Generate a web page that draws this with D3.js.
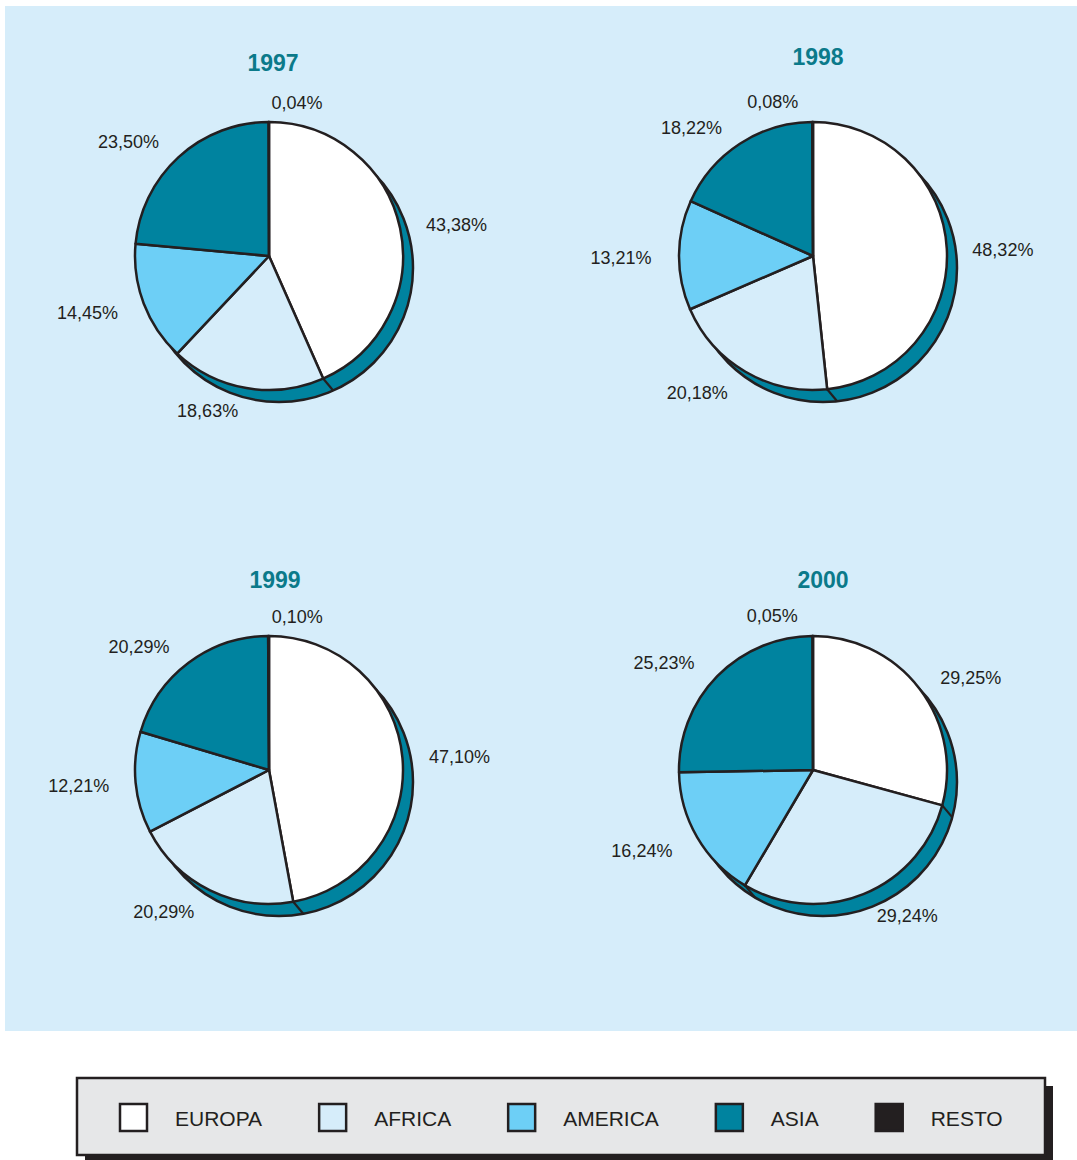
<!DOCTYPE html>
<html>
<head>
<meta charset="utf-8">
<script src="https://cdn.jsdelivr.net/npm/d3@7"></script>
<style>
  html, body { margin: 0; padding: 0; background: #ffffff; }
  svg { display: block; font-family: "Liberation Sans", Arial, Helvetica, sans-serif; }
</style>
</head>
<body>
<svg id="chart" width="1077" height="1160"></svg>
<script>
// ---------- data ----------
const years = ["1997", "1998", "1999", "2000"];
const categories = ["EUROPA", "AFRICA", "AMERICA", "ASIA", "RESTO"];
const values1997 = [43.38, 18.63, 14.45, 23.50, 0.04];
const values1998 = [48.32, 20.18, 13.21, 18.22, 0.08];
const values1999 = [47.10, 20.29, 12.21, 20.29, 0.10];
const values2000 = [29.25, 29.24, 16.24, 25.23, 0.05];
const seriesByYear = [values1997, values1998, values1999, values2000];

// ---------- layout / style (kept apart from the data) ----------
const colors = ["#ffffff", "#d6edfa", "#6dcff6", "#00839f", "#231f20"];
const ink = "#231f20";
const panelBg = "#d6edfa";
const titleColor = "#0b7a8a";
const radius = 134;
const shadowDx = 10, shadowDy = 12;
// label placement: [angle nudge in degrees, distance from centre]
const labelPlacement = [
  [[2.5, 190], [12, 166], [3.5, 190], [-8.5, 181], [10.4, 156]],
  [[1, 190], [10, 179], [-0.7, 192], [-10.3, 177], [-14.4, 160]],
  [[1.3, 191], [10.6, 176], [0.6, 191], [-9.7, 179], [10.6, 156]],
  [[6.9, 183], [-10.9, 173], [5.1, 189], [-8.5, 184], [-14.7, 160]]
];
const titleOffset = [[4, -185], [5, -191], [6, -182], [10, -182]];

const svg = d3.select("#chart");

// background panel
svg.append("rect")
  .attr("x", 5).attr("y", 6).attr("width", 1072).attr("height", 1025)
  .attr("fill", panelBg);

// grid scales for pie centres
const colScale = d3.scaleLinear().domain([0, 1]).range([269, 813]);
const rowScale = d3.scaleLinear().domain([0, 1]).range([256, 770]);

const pie = d3.pie().sort(null).startAngle(0).endAngle(2 * Math.PI);
const arc = d3.arc().innerRadius(0).outerRadius(radius);
const locale = d3.formatLocale({ decimal: ",", thousands: ".", grouping: [3], currency: ["", "€"] });
const fmt = locale.format(".2f");
const toRad = d => d * Math.PI / 180;

years.forEach((year, i) => {
  const cx = colScale(i % 2), cy = rowScale(Math.floor(i / 2));
  const g = svg.append("g").attr("transform", `translate(${cx},${cy})`);
  const arcs = pie(seriesByYear[i]);

  // 3D side / shadow
  g.append("circle")
    .attr("cx", shadowDx).attr("cy", shadowDy).attr("r", radius)
    .attr("fill", colors[3]).attr("stroke", ink).attr("stroke-width", 2.5);

  // side divisions where slice boundaries fall on the visible crescent
  arcs.forEach(a => {
    const ang = a.endAngle;
    const deg = ang * 180 / Math.PI;
    if (deg > 40 && deg < 212) {
      const x = radius * Math.sin(ang), y = -radius * Math.cos(ang);
      g.append("line")
        .attr("x1", x).attr("y1", y)
        .attr("x2", x + shadowDx).attr("y2", y + shadowDy)
        .attr("stroke", ink).attr("stroke-width", 2.2);
    }
  });

  // slices
  g.selectAll("path.slice")
    .data(arcs)
    .join("path")
    .attr("class", "slice")
    .attr("d", arc)
    .attr("fill", (d, k) => colors[k])
    .attr("stroke", ink)
    .attr("stroke-width", 2.5)
    .attr("stroke-linejoin", "round");

  // labels
  g.selectAll("text.lbl")
    .data(arcs)
    .join("text")
    .attr("class", "lbl")
    .attr("x", (d, k) => {
      const [nudge, dist] = labelPlacement[i][k];
      const mid = (d.startAngle + d.endAngle) / 2 + toRad(nudge);
      return dist * Math.sin(mid);
    })
    .attr("y", (d, k) => {
      const [nudge, dist] = labelPlacement[i][k];
      const mid = (d.startAngle + d.endAngle) / 2 + toRad(nudge);
      return -dist * Math.cos(mid);
    })
    .attr("dy", "0.36em")
    .attr("text-anchor", "middle")
    .attr("font-size", 18)
    .attr("fill", ink)
    .text(d => fmt(d.data) + "%");

  // title
  g.append("text")
    .attr("x", titleOffset[i][0])
    .attr("y", titleOffset[i][1])
    .attr("text-anchor", "middle")
    .attr("font-size", 23)
    .attr("font-weight", "bold")
    .attr("fill", titleColor)
    .text(year);
});

// ---------- legend ----------
const lg = svg.append("g");
lg.append("rect")
  .attr("x", 85).attr("y", 1086).attr("width", 968).attr("height", 77)
  .attr("fill", ink);
lg.append("rect")
  .attr("x", 77).attr("y", 1078).attr("width", 968).attr("height", 77)
  .attr("fill", "#e6e7e8").attr("stroke", ink).attr("stroke-width", 2.5);

let xPos = 120;
categories.forEach((cat, k) => {
  lg.append("rect")
    .attr("x", xPos).attr("y", 1104).attr("width", 27).attr("height", 27)
    .attr("fill", colors[k]).attr("stroke", ink).attr("stroke-width", 2.5);
  const t = lg.append("text")
    .attr("x", xPos + 55).attr("y", 1126)
    .attr("font-size", 21)
    .attr("fill", ink)
    .text(cat);
  const w = t.node().getComputedTextLength();
  xPos = xPos + 55 + w + 57;
});
</script>
</body>
</html>
